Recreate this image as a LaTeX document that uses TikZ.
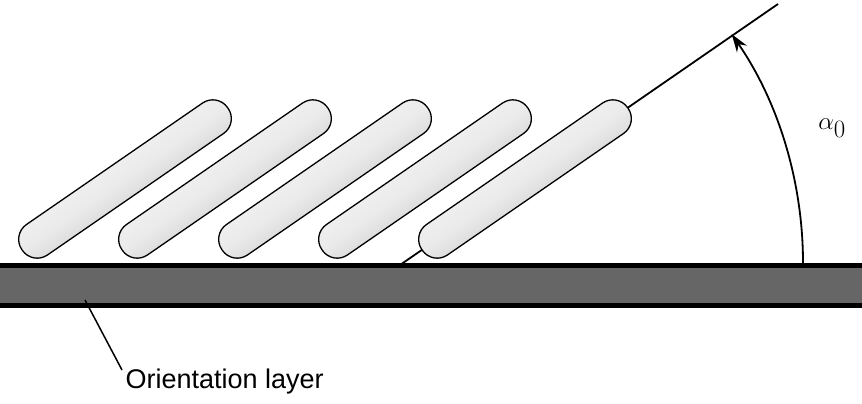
\documentclass[tikz,border=0pt]{standalone}
\usepackage{fontspec}
\setmainfont{Liberation Sans}
\usetikzlibrary{arrows.meta,calc}
\begin{document}
\begin{tikzpicture}[x=1pt,y=-1pt,
  rod/.style={draw=black, line width=1.3pt, rounded corners=18pt, minimum width=250pt, minimum height=37pt, rotate=34.6, inner sep=0pt, top color=white, bottom color=black!35, middle color=black!8, shading angle=34.6}]
\useasboundingbox (0,0) rectangle (862,404);
\fill[black!60] (0,266) rectangle (862,304);
\coordinate (o) at (400,265);
\coordinate (e) at (778,4);
\draw[line width=1.8pt] (o) -- (e);
\foreach \i in {0,...,4}{
  \node[rod] (r\i) at (125+100*\i,179) {};
}
\draw[line width=5pt] (0,265) -- (862,265);
\draw[line width=5pt] (0,305) -- (862,305);
\draw[line width=1.8pt, -{Stealth[length=18pt,width=12pt]}] (803,263) arc[start angle=0, end angle=-34.6, radius=403];
\node (a) at (832,128) {\fontsize{38}{38}\selectfont $\alpha_0$};
\coordinate (p) at (85,300);
\node[anchor=west, font=\fontsize{27}{28}\selectfont] (lbl) at (122,382) {Orientation layer};
\draw[line width=1.5pt] (p) -- (122,370);
\end{tikzpicture}
\end{document}
